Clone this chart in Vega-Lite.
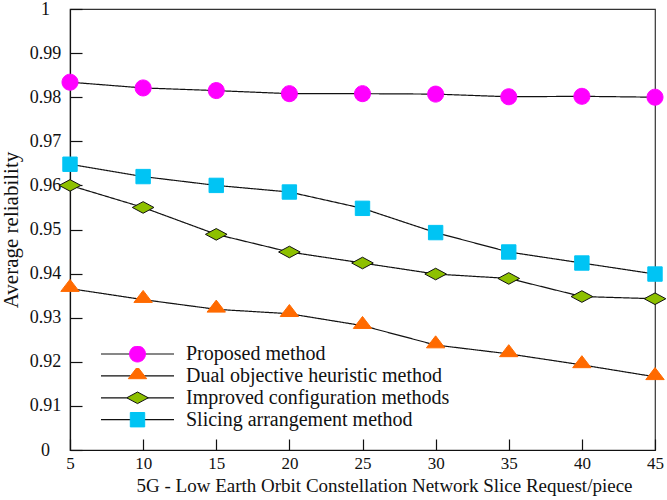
{
  "$schema": "https://vega.github.io/schema/vega-lite/v6.json",
  "width": 585,
  "height": 441,
  "autosize": {"type": "none"},
  "padding": {"left": 70, "top": 9, "right": 12, "bottom": 50},
  "background": "white",
  "config": {
    "font": "Liberation Serif",
    "view": {"stroke": "#333333", "strokeWidth": 1.2},
    "axis": {
      "grid": false,
      "domainColor": "#111111",
      "domainWidth": 1.2,
      "tickColor": "#111111",
      "tickWidth": 1.2,
      "labelFont": "Liberation Serif",
      "labelFontSize": 17,
      "labelColor": "#111111",
      "titleFont": "Liberation Serif",
      "titleFontSize": 19,
      "titleFontWeight": "normal",
      "titleColor": "#111111"
    },
    "legend": {
      "labelFont": "Liberation Serif",
      "labelFontSize": 20,
      "labelColor": "#111111",
      "labelLimit": 0,
      "padding": 0,
      "offset": 0
    }
  },
  "data": {
    "values": [
      {"x": 5, "y": 0.9834, "series": "Proposed method"},
      {"x": 10, "y": 0.9821, "series": "Proposed method"},
      {"x": 15, "y": 0.9815, "series": "Proposed method"},
      {"x": 20, "y": 0.9808, "series": "Proposed method"},
      {"x": 25, "y": 0.9808, "series": "Proposed method"},
      {"x": 30, "y": 0.9807, "series": "Proposed method"},
      {"x": 35, "y": 0.9801, "series": "Proposed method"},
      {"x": 40, "y": 0.9802, "series": "Proposed method"},
      {"x": 45, "y": 0.9800, "series": "Proposed method"},
      {"x": 5, "y": 0.9366, "series": "Dual objective heuristic method"},
      {"x": 10, "y": 0.9341, "series": "Dual objective heuristic method"},
      {"x": 15, "y": 0.9319, "series": "Dual objective heuristic method"},
      {"x": 20, "y": 0.9309, "series": "Dual objective heuristic method"},
      {"x": 25, "y": 0.9282, "series": "Dual objective heuristic method"},
      {"x": 30, "y": 0.9238, "series": "Dual objective heuristic method"},
      {"x": 35, "y": 0.9218, "series": "Dual objective heuristic method"},
      {"x": 40, "y": 0.9193, "series": "Dual objective heuristic method"},
      {"x": 45, "y": 0.9166, "series": "Dual objective heuristic method"},
      {"x": 5, "y": 0.9600, "series": "Improved configuration methods"},
      {"x": 10, "y": 0.9550, "series": "Improved configuration methods"},
      {"x": 15, "y": 0.9489, "series": "Improved configuration methods"},
      {"x": 20, "y": 0.9449, "series": "Improved configuration methods"},
      {"x": 25, "y": 0.9424, "series": "Improved configuration methods"},
      {"x": 30, "y": 0.9399, "series": "Improved configuration methods"},
      {"x": 35, "y": 0.9389, "series": "Improved configuration methods"},
      {"x": 40, "y": 0.9348, "series": "Improved configuration methods"},
      {"x": 45, "y": 0.9343, "series": "Improved configuration methods"},
      {"x": 5, "y": 0.9648, "series": "Slicing arrangement method"},
      {"x": 10, "y": 0.9620, "series": "Slicing arrangement method"},
      {"x": 15, "y": 0.9600, "series": "Slicing arrangement method"},
      {"x": 20, "y": 0.9585, "series": "Slicing arrangement method"},
      {"x": 25, "y": 0.9548, "series": "Slicing arrangement method"},
      {"x": 30, "y": 0.9493, "series": "Slicing arrangement method"},
      {"x": 35, "y": 0.9449, "series": "Slicing arrangement method"},
      {"x": 40, "y": 0.9424, "series": "Slicing arrangement method"},
      {"x": 45, "y": 0.9399, "series": "Slicing arrangement method"}
    ]
  },
  "encoding": {
    "x": {
      "field": "x",
      "type": "quantitative",
      "scale": {"domain": [5, 45], "nice": false, "zero": false},
      "axis": {
        "title": "5G - Low Earth Orbit Constellation Network Slice Request/piece",
        "values": [5, 10, 15, 20, 25, 30, 35, 40, 45],
        "tickSize": -11,
        "labelPadding": 16,
        "titlePadding": 5,
        "titleX": 314,
        "titleAlign": "center",
        "labelFlush": false
      }
    },
    "y": {
      "field": "y",
      "type": "quantitative",
      "scale": {"domain": [0.9, 1.0], "nice": false, "zero": false},
      "axis": {
        "title": "Average reliability",
        "titleFontSize": 21,
        "values": [0.9, 0.91, 0.92, 0.93, 0.94, 0.95, 0.96, 0.97, 0.98, 0.99, 1.0],
        "labelExpr": "datum.value < 0.905 ? '0' : (datum.value > 0.995 ? '1' : format(datum.value, '.2f'))",
        "labelFontSize": 18,
        "tickSize": -12,
        "labelAlign": "center",
        "labelPadding": 37,
        "titlePadding": 8,
        "labelFlush": false
      }
    }
  },
  "layer": [
    {
      "mark": {"type": "line", "color": "#111111", "strokeWidth": 1.2},
      "encoding": {
        "strokeDash": {
          "field": "series",
          "type": "nominal",
          "sort": ["Proposed method", "Dual objective heuristic method", "Improved configuration methods", "Slicing arrangement method"],
          "scale": {
            "range": [[1, 0], [1, 0], [1, 0], [1, 0]]
          },
          "legend": {
            "title": null,
            "orient": "none",
            "legendX": 30,
            "legendY": 337,
            "symbolType": "stroke",
            "symbolSize": 5329,
            "symbolStrokeColor": "#111111",
            "symbolStrokeWidth": 1.2,
            "labelExpr": "' '",
            "clipHeight": 16,
            "rowPadding": 1.9
          }
        }
      }
    },
    {
      "mark": {"type": "point", "filled": true, "size": 400, "opacity": 1, "strokeWidth": 1},
      "encoding": {
        "fill": {
          "field": "series",
          "type": "nominal",
          "scale": {
            "domain": ["Proposed method", "Dual objective heuristic method", "Improved configuration methods", "Slicing arrangement method"],
            "range": ["#FF00FF", "#FF6A00", "#8DC000", "#00C4F4"]
          },
          "legend": {
            "title": null,
            "orient": "none",
            "legendX": 57,
            "legendY": 337,
            "symbolSize": 400,
            "symbolOpacity": 1,
            "symbolStrokeWidth": 1,
            "labelOffset": 38,
            "clipHeight": 16,
            "rowPadding": 1.9
          }
        },
        "stroke": {
          "field": "series",
          "type": "nominal",
          "scale": {
            "domain": ["Proposed method", "Dual objective heuristic method", "Improved configuration methods", "Slicing arrangement method"],
            "range": ["#FF00FF", "#FF6A00", "#111111", "#00C4F4"]
          },
          "legend": {
            "title": null,
            "orient": "none",
            "legendX": 57,
            "legendY": 337,
            "symbolSize": 400,
            "symbolOpacity": 1,
            "symbolStrokeWidth": 1,
            "labelOffset": 38,
            "clipHeight": 16,
            "rowPadding": 1.9
          }
        },
        "shape": {
          "field": "series",
          "type": "nominal",
          "scale": {
            "domain": ["Proposed method", "Dual objective heuristic method", "Improved configuration methods", "Slicing arrangement method"],
            "range": [
              "M-0.8,0A0.8,0.8 0 1,0 0.8,0A0.8,0.8 0 1,0 -0.8,0Z",
              "M0,-0.92L0.92,0.28L-0.92,0.28Z",
              "M-1.08,0L0,-0.58L1.08,0L0,0.58Z",
              "M-0.72,-0.72H0.72V0.72H-0.72Z"
            ]
          },
          "legend": {
            "title": null,
            "orient": "none",
            "legendX": 57,
            "legendY": 337,
            "symbolSize": 400,
            "symbolOpacity": 1,
            "symbolStrokeWidth": 1,
            "labelOffset": 38,
            "clipHeight": 16,
            "rowPadding": 1.9
          }
        }
      }
    }
  ]
}
